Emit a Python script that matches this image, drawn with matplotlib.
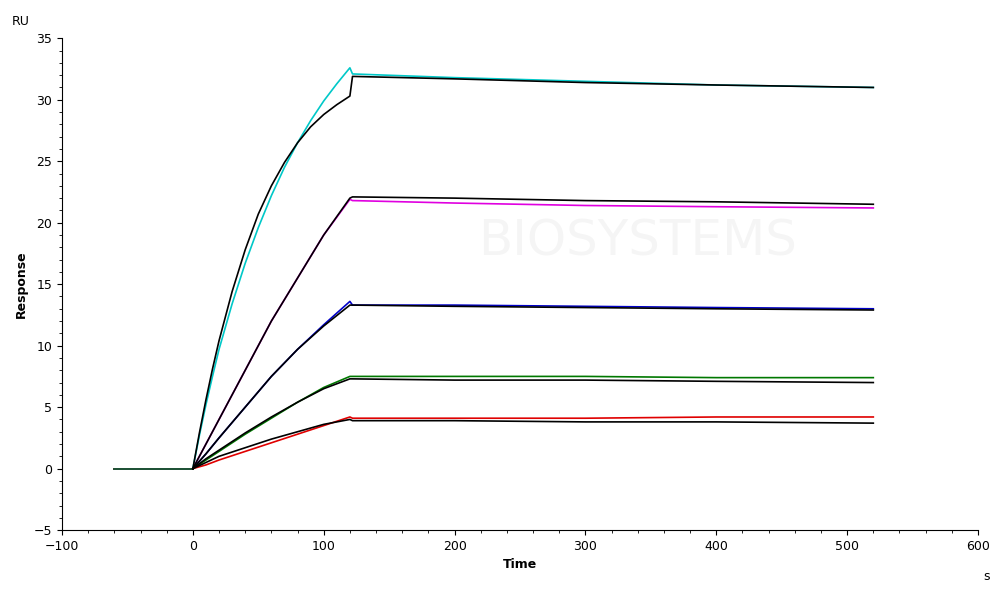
import matplotlib.pyplot as plt
from matplotlib.ticker import MultipleLocator

# time points (s)
t_base = [-60, -30, 0]
t_assoc_c = [0, 5, 10, 15, 20, 30, 40, 50, 60, 70, 80, 90, 100, 110, 120]
t_assoc = [0, 10, 20, 40, 60, 80, 100, 120]
t_diss = [122, 200, 300, 400, 520]

# measured curves (association, dissociation)
cyan_a = [0, 2.7, 5.2, 7.5, 9.7, 13.4, 16.7, 19.6, 22.2, 24.5, 26.5, 28.3, 29.9, 31.3, 32.6]
cyan_d = [32.1, 31.8, 31.5, 31.2, 31.0]
magenta_a = [0, 2, 4, 8, 12, 15.5, 19, 21.9]
magenta_d = [21.8, 21.6, 21.4, 21.3, 21.2]
blue_a = [0, 1.2, 2.5, 5, 7.5, 9.7, 11.7, 13.6]
blue_d = [13.3, 13.3, 13.2, 13.1, 13.0]
green_a = [0, 0.7, 1.4, 2.8, 4.1, 5.4, 6.6, 7.5]
green_d = [7.5, 7.5, 7.5, 7.4, 7.4]
red_a = [0, 0.3, 0.7, 1.4, 2.1, 2.8, 3.5, 4.2]
red_d = [4.1, 4.1, 4.1, 4.2, 4.2]

# fitted curves
fit_cyan_a = [0, 2.9, 5.6, 8.1, 10.4, 14.4, 17.8, 20.7, 23.0, 24.9, 26.5, 27.8, 28.8, 29.6, 30.3]
fit_a = [
    [0, 2, 4, 8, 12, 15.5, 19, 22.0],
    [0, 1.2, 2.5, 5, 7.5, 9.7, 11.6, 13.3],
    [0, 0.8, 1.5, 2.9, 4.2, 5.4, 6.5, 7.3],
    [0, 0.5, 1.0, 1.7, 2.4, 3.0, 3.6, 4.0],
]
fit_d = [
    [31.9, 31.7, 31.4, 31.2, 31.0],
    [22.1, 22.0, 21.8, 21.7, 21.5],
    [13.3, 13.2, 13.1, 13.0, 12.9],
    [7.3, 7.2, 7.2, 7.1, 7.0],
    [3.9, 3.9, 3.8, 3.8, 3.7],
]

colors = ['#00c8c8', '#e000e0', '#0000c8', '#007800', '#e00000']
meas = [(t_assoc_c, cyan_a, cyan_d), (t_assoc, magenta_a, magenta_d),
        (t_assoc, blue_a, blue_d), (t_assoc, green_a, green_d),
        (t_assoc, red_a, red_d)]
fits = [(t_assoc_c, fit_cyan_a)] + [(t_assoc, a) for a in fit_a]

fig = plt.figure(figsize=(10, 5.89), dpi=100)
ax = fig.add_axes([0.062, 0.1, 0.916, 0.835])

for c, (t, a, d) in zip(colors, meas):
    ax.plot(t_base, [0, 0, 0], color=c, lw=1.2)
    ax.plot(t + t_diss, a + d, color=c, lw=1.2)
ax.plot(t_base, [0, 0, 0], color='#006040', lw=1.2)
for (t, a), d in zip(fits, fit_d):
    ax.plot(t + t_diss, a + d, color='black', lw=1.2)

ax.text(340, 18.5, 'BIOSYSTEMS', fontsize=36, color='#000000', alpha=0.04,
        ha='center', va='center')

ax.set_xlim(-100, 600)
ax.set_ylim(-5, 35)
ax.xaxis.set_major_locator(MultipleLocator(100))
ax.xaxis.set_minor_locator(MultipleLocator(20))
ax.yaxis.set_major_locator(MultipleLocator(5))
ax.yaxis.set_minor_locator(MultipleLocator(1))
ax.tick_params(labelsize=9)
for s in ['top', 'right']:
    ax.spines[s].set_visible(False)
ax.set_xlabel('Time', fontweight='bold', fontsize=9)
ax.set_ylabel('Response', fontweight='bold', fontsize=9)
fig.text(0.012, 0.975, 'RU', fontsize=9, va='top')
fig.text(0.99, 0.015, 's', fontsize=9, ha='right')

fig.savefig('out.png')
